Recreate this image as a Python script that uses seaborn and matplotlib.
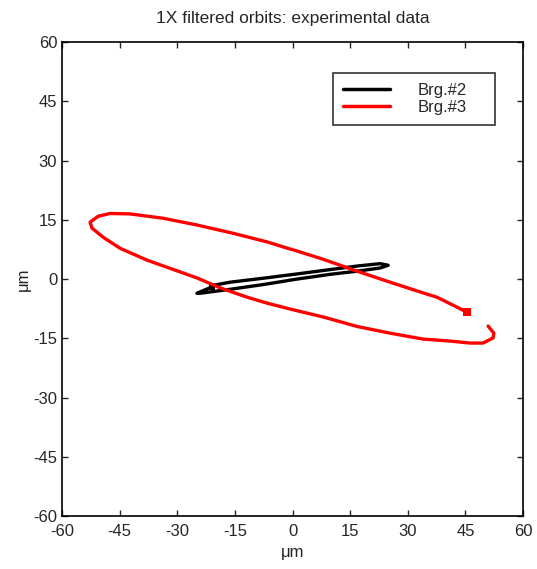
import matplotlib
matplotlib.use("Agg")
import matplotlib.pyplot as plt
import numpy as np
import pandas as pd
import seaborn as sns

# orbit traces (um)
brg2_x = [-21.0, -24.9, -24.1, -16.3, -7.7, 1.2, 9.8, 16.8, 22.8, 24.9,
          22.8, 16.8, 9.8, 1.2, -7.7, -16.3, -20.7]
brg2_y = [-2.0, -3.6, -3.6, -2.6, -1.4, 0.0, 1.2, 2.0, 2.8, 3.5,
          3.9, 3.3, 2.4, 1.3, 0.2, -0.8, -1.6]
brg3_x = [45.4, 42.8, 37.6, 34.0, 25.4, 16.8, 8.0, 1.2, -0.6, -6.6,
          -15.5, -24.9, -33.7, -42.3, -47.5, -50.6, -52.7, -52.2, -49.3,
          -44.9, -37.9, -32.7, -24.9, -18.9, -11.8, -6.6, -0.6, 8.0, 16.8,
          25.4, 34.0, 41.0, 46.2, 49.6, 52.2, 52.4, 50.9]
brg3_y = [-8.4, -7.1, -4.6, -3.5, -0.8, 2.0, 5.0, 7.1, 7.6, 9.4,
          11.6, 13.7, 15.4, 16.5, 16.6, 15.9, 14.4, 12.9, 10.6,
          7.8, 4.8, 3.0, 0.3, -2.2, -4.6, -6.1, -7.6, -9.6, -12.0,
          -13.7, -15.2, -15.7, -16.2, -16.2, -14.9, -13.7, -11.9]
labels = ["Brg.#2", "Brg.#3"]
colors = ["black", "red"]
ticks = [-60, -45, -30, -15, 0, 15, 30, 45, 60]

sns.set_style("ticks")
plt.rcParams["font.family"] = ["Liberation Sans", "DejaVu Sans"]
plt.rcParams["xtick.direction"] = "in"
plt.rcParams["ytick.direction"] = "in"
plt.rcParams["axes.unicode_minus"] = False

df = pd.concat([
    pd.DataFrame({"x": brg2_x, "y": brg2_y, "bearing": labels[0]}),
    pd.DataFrame({"x": brg3_x, "y": brg3_y, "bearing": labels[1]}),
], ignore_index=True)
start = df.groupby("bearing", sort=False).head(1)

fig = plt.figure(figsize=(5.37, 5.69), dpi=100)
ax = fig.add_axes([0.1155, 0.0931, 0.8585, 0.8329])
sns.lineplot(data=df, x="x", y="y", hue="bearing", sort=False, estimator=None,
             palette=dict(zip(labels, colors)), linewidth=2.4, ax=ax)
sns.scatterplot(data=start, x="x", y="y", hue="bearing", marker="s",
                palette=dict(zip(labels, colors)), s=[20, 32], edgecolor="none",
                legend=False, ax=ax)

ax.set_xlim(-60, 60)
ax.set_ylim(-60, 60)
ax.set_xticks(ticks)
ax.set_yticks(ticks)
ax.tick_params(labelsize=12, length=4, width=1, top=True, right=True)
ax.tick_params(axis="x", pad=6)
for sp in ax.spines.values():
    sp.set_linewidth(1.2)
    sp.set_color("black")
ax.set_xlabel("μm", fontsize=12, labelpad=4)
ax.set_ylabel("μm", fontsize=12, labelpad=2)
ax.set_title("1X filtered orbits: experimental data", fontsize=12.5, pad=14)

handles, _ = ax.get_legend_handles_labels()
leg = ax.legend(handles, labels, loc="upper left",
                bbox_to_anchor=(0.588, 0.821, 0.351, 0.114), mode="expand",
                fontsize=12, frameon=True, fancybox=False, handlelength=2.8,
                handletextpad=1.7, labelspacing=0.1, borderpad=0.6,
                borderaxespad=0)
leg.get_frame().set_edgecolor("black")
leg.get_frame().set_linewidth(1.2)
for line in leg.get_lines():
    line.set_linewidth(2.5)

fig.savefig("out.png", dpi=100)
